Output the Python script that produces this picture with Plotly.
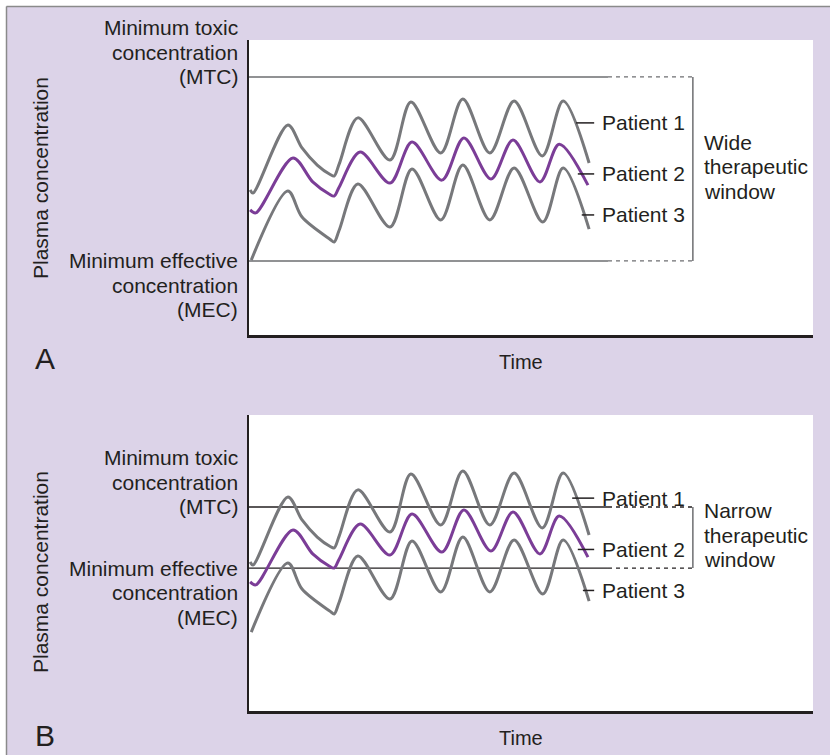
import plotly.graph_objects as go

# Plasma concentration over time for three patients (arbitrary units)
p1_t = [0.2, 0.7, 6.9, 9.4, 12.1, 14.4, 15.1, 16.0, 19.3, 25.0, 28.7, 34.0, 37.9, 42.7, 47.0, 52.0, 55.7, 60.3]
p1_c = [49.2, 48.1, 71.2, 63.4, 57.6, 54.4, 53.9, 58.0, 73.6, 59.3, 79.0, 61.7, 80.0, 61.7, 79.3, 60.7, 79.3, 58.3]

p2_t = [0.2, 1.2, 7.8, 11.3, 14.2, 15.1, 16.0, 19.7, 25.0, 28.9, 34.2, 38.1, 42.9, 46.8, 51.6, 55.0, 60.1]
p2_c = [42.4, 41.4, 60.0, 51.9, 47.8, 47.1, 50.2, 62.0, 51.5, 65.4, 52.5, 66.8, 52.9, 66.1, 51.9, 64.7, 50.8]

p3_t = [0.4, 6.9, 9.4, 14.4, 15.1, 16.0, 19.3, 25.0, 28.9, 34.0, 37.9, 42.7, 47.0, 52.1, 55.7, 60.3]
p3_c = [25.4, 48.8, 40.0, 32.4, 31.5, 35.6, 51.2, 36.6, 56.3, 39.0, 57.6, 39.0, 56.6, 38.3, 56.6, 35.9]

patients = ["Patient 1", "Patient 2", "Patient 3"]

# Threshold levels per panel: (MTC, MEC)
thresholds_a = (87.5, 25.1)
thresholds_b = (67.8, 47.1)

window_text = [["Wide", "therapeutic", "window"], ["Narrow", "therapeutic", "window"]]
mtc_text = ["Minimum toxic", "concentration", "(MTC)"]
mec_text = ["Minimum effective", "concentration", "(MEC)"]
panel_letters = ["A", "B"]

W, H = 830, 755
FONT = "Liberation Sans, Arial, Helvetica, sans-serif"
TXT = "#231f20"
GRAY = "#77787b"
PURPLE = "#7b3d97"
LAV = "#dcd3e8"
FS = 21
LH = 24.5  # line spacing of stacked labels, px


def px(x):
    return x / W


def py(y):
    return 1 - y / H


fig = go.Figure()

series = [(p1_t, p1_c, GRAY), (p2_t, p2_c, PURPLE), (p3_t, p3_c, GRAY)]
for k, (xa, ya) in enumerate([("x", "y"), ("x2", "y2")]):
    for (t, c, col), name in zip(series, patients):
        fig.add_trace(go.Scatter(
            x=t, y=c, mode="lines", name=name, xaxis=xa, yaxis=ya,
            line=dict(color=col, width=3, shape="spline", smoothing=0.9),
            hoverinfo="skip", showlegend=False))

axis_common = dict(showgrid=False, zeroline=False, showticklabels=False, ticks="",
                   showline=True, linecolor=TXT, mirror=False, fixedrange=True)

fig.update_layout(
    width=W, height=H,
    margin=dict(l=0, r=0, t=0, b=0),
    paper_bgcolor=LAV, plot_bgcolor="white",
    font=dict(family=FONT, size=FS, color=TXT),
    xaxis=dict(domain=[px(249), px(813)], range=[0, 100], anchor="y", linewidth=2.5, **axis_common),
    yaxis=dict(domain=[py(335), py(40)], range=[0, 100], anchor="x", linewidth=2, **axis_common),
    xaxis2=dict(domain=[px(249), px(813)], range=[0, 100], anchor="y2", linewidth=2.5, **axis_common),
    yaxis2=dict(domain=[py(711), py(415)], range=[-1.36, 98.98], anchor="x2", linewidth=2, **axis_common),
)

shapes = []
annotations = []


def stacked(lines, xref, yref, x, y, first_shift, xanchor, align):
    """Place lines of text one under another with fixed spacing."""
    for j, s in enumerate(lines):
        annotations.append(dict(xref=xref, yref=yref, x=x, y=y, yshift=first_shift - j * LH,
                                text=s, showarrow=False, xanchor=xanchor, yanchor="middle",
                                align=align, font=dict(size=FS)))


# Outer frame: white margin strip with a thin grey border on top and left
shapes.append(dict(type="rect", xref="paper", yref="paper", x0=-0.01, x1=px(6), y0=-0.01, y1=1.01,
                   fillcolor="white", line=dict(width=0), layer="above"))
shapes.append(dict(type="rect", xref="paper", yref="paper", x0=-0.01, x1=1.01, y0=py(6), y1=1.01,
                   fillcolor="white", line=dict(width=0), layer="above"))
shapes.append(dict(type="line", xref="paper", yref="paper", x0=px(6.5), x1=px(6.5), y0=-0.01, y1=py(6.5),
                   line=dict(color="#8a8a8a", width=1.5), layer="above"))
shapes.append(dict(type="line", xref="paper", yref="paper", x0=px(6.5), x1=1.01, y0=py(6.5), y1=py(6.5),
                   line=dict(color="#8a8a8a", width=1.5), layer="above"))

SOLID_END = 63.65
BRACKET_X = 78.7
LEAD_END = 61.2
LABEL_X = 62.2

panels = [
    dict(xr="x", yr="y", thr=thresholds_a, line_col="#6d6e71", line_w=1.5,
         label_y=[71.9, 54.6, 40.7], lead_x=[58.0, 58.3, 59.0],
         title_y=178, time_y=362, letter_y=359),
    dict(xr="x2", yr="y2", thr=thresholds_b, line_col=TXT, line_w=1.3,
         label_y=[70.8, 53.4, 39.5], lead_x=[57.3, 58.3, 59.2],
         title_y=572, time_y=738, letter_y=735),
]

for i, p in enumerate(panels):
    xr, yr = p["xr"], p["yr"]
    mtc, mec = p["thr"]
    for lvl in (mtc, mec):
        shapes.append(dict(type="line", xref=xr, yref=yr, x0=0, x1=SOLID_END, y0=lvl, y1=lvl,
                           line=dict(color=p["line_col"], width=p["line_w"]), layer="below"))
        shapes.append(dict(type="line", xref=xr, yref=yr, x0=SOLID_END, x1=BRACKET_X, y0=lvl, y1=lvl,
                           line=dict(color=p["line_col"], width=1.3, dash="4px,4px"), layer="below"))
    shapes.append(dict(type="line", xref=xr, yref=yr, x0=BRACKET_X, x1=BRACKET_X, y0=mec, y1=mtc,
                       line=dict(color="#6d6e71", width=1.5)))

    # Patient labels with leader lines
    for name, ly, lx in zip(patients, p["label_y"], p["lead_x"]):
        shapes.append(dict(type="line", xref=xr, yref=yr, x0=lx, x1=LEAD_END, y0=ly, y1=ly,
                           line=dict(color=TXT, width=1.5)))
        annotations.append(dict(xref=xr, yref=yr, x=LABEL_X, y=ly, text=name, showarrow=False,
                                xanchor="left", yanchor="middle", font=dict(size=FS)))

    stacked(window_text[i], xr, yr, 80.3, (mtc + mec) / 2 + 0.7, LH, "left", "left")

    # Threshold labels to the left of the axis
    stacked(mtc_text, "paper", yr, px(240), mtc, 2 * LH, "right", "right")
    stacked(mec_text, "paper", yr, px(240), mec, 0, "right", "right")

    annotations.append(dict(xref="paper", yref="paper", x=px(40), y=py(p["title_y"]),
                            text="Plasma concentration", textangle=-90, showarrow=False,
                            xanchor="center", yanchor="middle", font=dict(size=FS)))
    annotations.append(dict(xref="paper", yref="paper", x=px(521), y=py(p["time_y"]),
                            text="Time", showarrow=False, xanchor="center", yanchor="middle",
                            font=dict(size=20)))
    annotations.append(dict(xref="paper", yref="paper", x=px(45), y=py(p["letter_y"]),
                            text=panel_letters[i], showarrow=False, xanchor="center", yanchor="middle",
                            font=dict(size=30)))

fig.update_layout(shapes=shapes, annotations=annotations)
fig.write_html("out.html")
